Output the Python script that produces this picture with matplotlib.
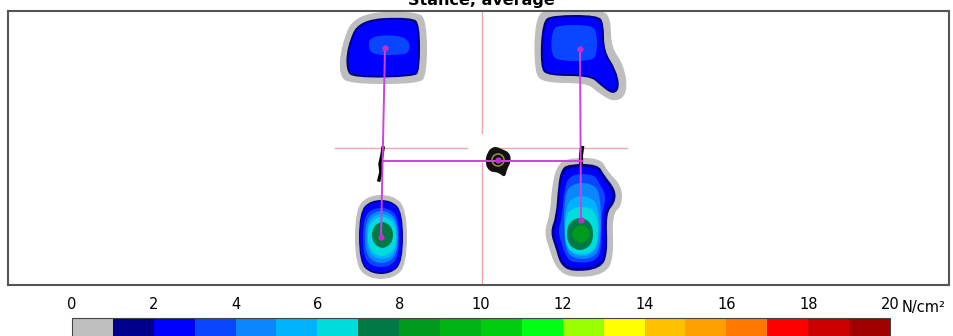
import numpy as np
import matplotlib
matplotlib.use("Agg")
import matplotlib.pyplot as plt
from matplotlib.path import Path
from matplotlib.patches import PathPatch, Circle
from matplotlib.colors import ListedColormap, BoundaryNorm
from matplotlib.cm import ScalarMappable

# pressure scale, one colour per 1 N/cm2 step
levels = np.arange(0, 21, 1)
level_colors = ["#bebebe", "#00008c", "#0000ff", "#0a46ff", "#0a86ff", "#00b2ff",
                "#00dcdc", "#007a45", "#009a1e", "#00b414", "#00cc10", "#00ff14",
                "#99ff00", "#ffff00", "#ffc000", "#ffa000", "#ff7800", "#ff0000",
                "#cc0000", "#a00000"]
tick_values = [0, 2, 4, 6, 8, 10, 12, 14, 16, 18, 20]

# contour outlines per paw: (level, outline points)
front_left = [
    (0, [(341, 46), (355, 13), (416, 11), (427, 20), (427, 76), (418, 84), (349, 84), (339, 75)]),
    (1, [(347, 47), (359, 19), (412, 17), (420, 24), (420, 71), (414, 77), (353, 78), (346, 70)]),
    (2, [(349, 48), (360, 21), (411, 19), (418, 26), (418, 70), (413, 75), (355, 76), (348, 69)]),
    (3, [(368, 46), (371, 36), (398, 35), (410, 41), (409, 53), (400, 55), (372, 55)]),
]
front_right = [
    (0, [(535, 16), (549, 9), (602, 9), (611, 19), (611, 47), (624, 65), (628, 93), (615, 103),
         (597, 92), (587, 83), (544, 83), (534, 73)]),
    (1, [(542, 21), (553, 15), (598, 15), (604, 23), (604, 51), (616, 69), (620, 88), (613, 95),
         (600, 85), (590, 76), (548, 76), (540, 68)]),
    (2, [(544, 23), (554, 17), (597, 17), (602, 25), (602, 52), (614, 70), (618, 86), (612, 92),
         (601, 83), (590, 74), (549, 74), (542, 67)]),
    (3, [(552, 30), (559, 25), (591, 25), (597, 32), (597, 55), (591, 61), (558, 61), (551, 54)]),
]
rear_right = [
    (0, [(567, 158), (601, 158), (607, 171), (622, 186), (622, 206), (612, 214), (614, 257),
         (605, 275), (570, 278), (556, 268), (550, 251), (544, 232), (550, 215), (552, 185), (557, 166)]),
    (1, [(568, 164), (598, 164), (604, 175), (616, 190), (615, 203), (606, 213), (608, 253),
         (601, 269), (571, 272), (560, 264), (556, 249), (550, 232), (556, 216), (558, 186), (561, 170)]),
    (2, [(569, 167), (597, 167), (602, 177), (613, 191), (612, 202), (604, 212), (606, 252),
         (599, 266), (572, 269), (562, 262), (558, 248), (553, 232), (558, 217), (560, 187), (563, 173)]),
    (3, [(570, 174), (594, 174), (599, 183), (606, 195), (604, 207), (601, 215), (602, 248),
         (596, 262), (573, 263), (566, 257), (562, 245), (558, 231), (562, 218), (564, 190)]),
]
# rounded-box contours: (level, x0, x1, y0, y1, corner)
rear_left_boxes = [
    (0, 355, 407, 195, 279, 14), (1, 359, 403, 200, 274, 12), (2, 360, 402, 202, 272, 11),
    (3, 363, 399, 208, 267, 10), (4, 365, 398, 211, 263, 10), (5, 367, 397, 214, 259, 9),
    (6, 368, 396, 217, 256, 9), (7, 372, 393, 222, 248, 7),
]
rear_right_boxes = [
    (4, 564, 601, 183, 259, 10), (5, 565, 599, 196, 256, 10), (6, 565, 598, 207, 254, 9),
    (7, 567, 593, 218, 250, 8), (8, 572, 590, 225, 243, 6),
]

# paw centres of pressure and the centre of gravity
paw_x = [385, 580, 381, 581]   # FL, FR, RL, RR
paw_y = [48, 49, 237, 220]
link_y = 161
link_x = [383, 582]
cog_x, cog_y = 498, 160
cog_outline = [(487, 152), (494, 146), (502, 149), (510, 153), (511, 162), (507, 169),
               (505, 178), (498, 172), (490, 172), (485, 164)]
trace_left = [(383, 148), (382, 155), (380, 164), (381, 172), (379, 180)]
trace_right = [(582, 148), (581, 155), (581, 163)]

# reference cross
cross_h = [(335, 467), (497, 627)]
cross_h_y = 148
cross_v = [(11, 133), (163, 285)]
cross_v_x = 482


def smooth_path(points):
    pts = np.asarray(points, float)
    mids = (pts + np.roll(pts, -1, axis=0)) / 2
    verts = [mids[-1]]
    codes = [Path.MOVETO]
    for i in range(len(pts)):
        verts += [pts[i], mids[i]]
        codes += [Path.CURVE3, Path.CURVE3]
    return Path(verts, codes)


def box_points(x0, x1, y0, y1, r):
    return [(x0 + r, y0), (x1 - r, y0), (x1, y0 + r), (x1, y1 - r),
            (x1 - r, y1), (x0 + r, y1), (x0, y1 - r), (x0, y0 + r)]


fig = plt.figure(figsize=(9.54, 3.36), dpi=100)
W, H = 954, 336
ax = fig.add_axes([8 / W, (H - 285) / H, 941 / W, 274 / H])
ax.set_xlim(8, 949)
ax.set_ylim(285, 11)
ax.set_xticks([])
ax.set_yticks([])
for s in ax.spines.values():
    s.set_color("#555555")
    s.set_linewidth(1.5)

for x0, x1 in cross_h:
    ax.plot([x0, x1], [cross_h_y, cross_h_y], color="#e8a6ae", lw=1, zorder=1)
for y0, y1 in cross_v:
    ax.plot([cross_v_x, cross_v_x], [y0, y1], color="#e8a6ae", lw=1, zorder=1)

for paw in (front_left, front_right, rear_right):
    for lev, pts in paw:
        ax.add_patch(PathPatch(smooth_path(pts), facecolor=level_colors[lev],
                               edgecolor="none", zorder=2))
for boxes in (rear_left_boxes, rear_right_boxes):
    for lev, x0, x1, y0, y1, r in boxes:
        ax.add_patch(PathPatch(smooth_path(box_points(x0, x1, y0, y1, r)),
                               facecolor=level_colors[lev], edgecolor="none", zorder=2))

# centre of pressure traces
ax.plot(*zip(*trace_left), color="black", lw=2.5, zorder=3)
ax.plot(*zip(*trace_right), color="black", lw=3, zorder=3)
ax.add_patch(PathPatch(smooth_path(cog_outline), facecolor="#111111", edgecolor="none", zorder=3))
ax.add_patch(Circle((cog_x, cog_y), 6, facecolor="none", edgecolor="#8c8c34", lw=1.2, zorder=3))

magenta = "#cc44dd"
ax.plot([paw_x[0], paw_x[2]], [paw_y[0], paw_y[2]], color=magenta, lw=1.4, zorder=4)
ax.plot([paw_x[1], paw_x[3]], [paw_y[1], paw_y[3]], color=magenta, lw=1.4, zorder=4)
ax.plot(link_x, [link_y, link_y], color=magenta, lw=1.4, zorder=4)
ax.plot(paw_x + [cog_x], paw_y + [cog_y], "o", ms=3.5, color="#c030d0", zorder=5)

fig.text(481 / W, 1 - 5 / H, "Stance, average", ha="center", va="baseline",
         fontsize=11.5, fontweight="bold")

# colour scale
cmap = ListedColormap(level_colors)
norm = BoundaryNorm(levels, cmap.N)
cax = fig.add_axes([72 / W, -0.05, 818 / W, (H - 318) / H + 0.05])
cb = fig.colorbar(ScalarMappable(norm=norm, cmap=cmap), cax=cax, orientation="horizontal",
                  ticks=tick_values)
cb.outline.set_linewidth(0.8)
cb.outline.set_edgecolor("#444444")
cb.minorticks_off()
cax.xaxis.set_ticks_position("top")
cax.tick_params(axis="x", which="both", length=0, width=0, pad=4, labelsize=10.5)
fig.text(902 / W, 1 - 312 / H, "N/cm²", ha="left", va="baseline", fontsize=10.5)

fig.savefig("out.png", dpi=100)
